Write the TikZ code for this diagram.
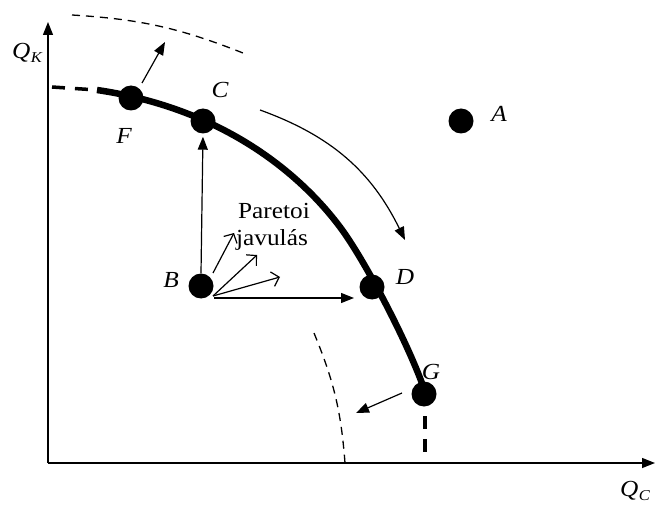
\documentclass[tikz,border=0pt]{standalone}
\usepackage{fontspec}
\setmainfont{Liberation Serif}
\usetikzlibrary{arrows.meta}
\newcommand{\wtext}[1]{\scalebox{1.1}[1]{#1}}
\begin{document}
\begin{tikzpicture}[x=1pt,y=-1pt,
  dot/.style={circle,fill=black,minimum size=25pt,inner sep=0pt},
  lbl/.style={font=\fontsize{23}{27}\selectfont\itshape,inner sep=0pt},
  txt/.style={font=\fontsize{23}{27}\selectfont,inner sep=0pt},
  axisline/.style={line width=1.4pt,-{Triangle[length=13pt,width=10pt]}},
  farrow/.style={line width=1.2pt,-{Triangle[length=13pt,width=10pt]}},
  oarrow/.style={line width=1.2pt,-{Straight Barb[length=7pt,width=15pt,line width=1.2pt]}},
  frontier/.style={line width=6.5pt},
  thickdash/.style={line width=3.5pt,dash pattern=on 13pt off 10pt},
  thindash/.style={line width=1.3pt,dash pattern=on 8pt off 6pt}]
\useasboundingbox (0,0) rectangle (656,505);
% axes
\coordinate (O) at (48,463);
\coordinate (ytip) at (48,22);
\coordinate (xtip) at (655,463);
\draw[axisline] (O) -- (ytip);
\draw[axisline] (O) -- (xtip);
\node[lbl] (QK) at (27,53) {\wtext{Q\kern0.5pt\raisebox{-0.35ex}{\fontsize{15}{17}\selectfont K}}};
\node[lbl] (QC) at (635,491) {\wtext{Q\kern0.5pt\raisebox{-0.35ex}{\fontsize{15}{17}\selectfont C}}};
% frontier
\coordinate (f0) at (52,87);
\coordinate (f1) at (97,90);
\coordinate (fm) at (340,227);
\coordinate (fe) at (423,386);
\draw[thickdash] (f0) -- (f1);
\draw[frontier] (f1) .. controls (220,108) and (298,171) .. (fm)
                     .. controls (364,259) and (406,339) .. (fe);
\coordinate (g1) at (425,416);
\coordinate (g2) at (425,454);
\draw[thickdash] (g1) -- (g2);
% shifted frontiers
\coordinate (u1) at (72,15);
\coordinate (u2) at (243,53);
\draw[thindash] (u1) to[bend left=9] (u2);
\coordinate (l1) at (314,333);
\coordinate (l2) at (345,463);
\draw[thindash] (l1) to[bend left=9] (l2);
% points
\node[dot] (F) at (131,98) {};
\node[dot] (C) at (203,121) {};
\node[dot] (D) at (372,287) {};
\node[dot] (G) at (424,394) {};
\node[dot] (B) at (201,286) {};
\node[dot] (A) at (461,121) {};
\node[lbl] (lF) at (124,136) {\wtext{F}};
\node[lbl] (lC) at (220,90) {\wtext{C}};
\node[lbl] (lD) at (405,277) {\wtext{D}};
\node[lbl] (lG) at (431,372) {\wtext{G}};
\node[lbl] (lB) at (171,280) {\wtext{B}};
\node[lbl] (lA) at (499,114) {\wtext{A}};
% arrows
\coordinate (fa1) at (142,83);
\coordinate (fa2) at (165,42);
\draw[farrow] (fa1) -- (fa2);
\coordinate (ga1) at (402,393);
\coordinate (ga2) at (356,413);
\draw[farrow] (ga1) -- (ga2);
\coordinate (cd1) at (260,110);
\coordinate (cd2) at (405,240);
\draw[farrow] (cd1) to[bend left=22] (cd2);
\draw[farrow,shorten >=3pt] (B.north) -- (C.south);
\coordinate (br1) at (214,298);
\coordinate (br2) at (354,298);
\draw[farrow] (br1) -- (br2);
% Pareto improvement fan
\coordinate (p0) at (213,273);
\coordinate (p1) at (234,233);
\coordinate (q0) at (213,296);
\coordinate (p2) at (257,255);
\coordinate (p3) at (280,277);
\draw[oarrow] (p0) -- (p1);
\draw[oarrow] (q0) -- (p2);
\draw[oarrow] (q0) -- (p3);
\node[txt] (t1) at (274,211) {\wtext{Paretoi}};
\node[txt] (t2) at (272,240) {\wtext{javulás}};
\end{tikzpicture}
\end{document}
